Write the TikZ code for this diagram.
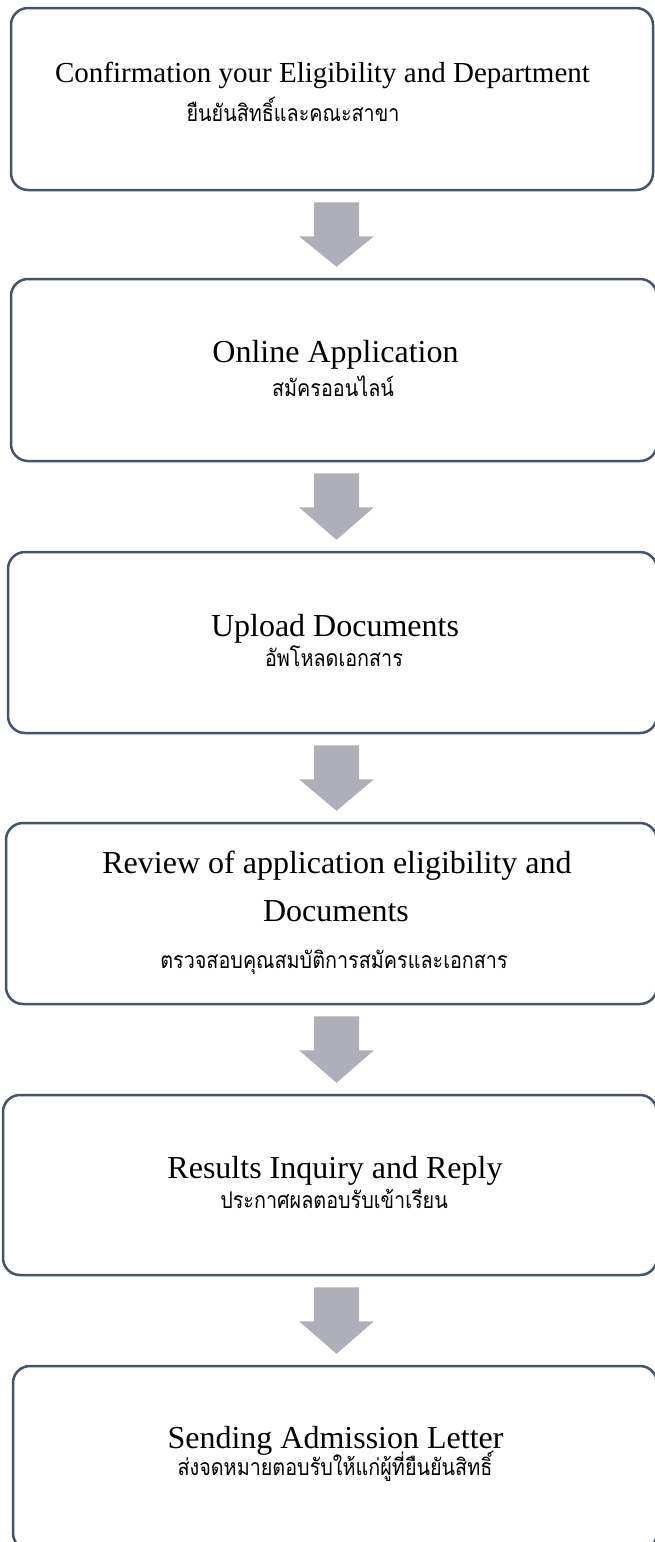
\documentclass[tikz,border=0pt]{standalone}
\usepackage{fontspec}
\setmainfont{Liberation Serif}
\newfontfamily\thai[Script=Thai,FakeStretch=0.86]{Loma}
\usetikzlibrary{calc}
\definecolor{boxline}{HTML}{44546A}
\definecolor{arrowgray}{HTML}{ADB0B8}
\tikzset{
  stepbox/.style={draw=boxline, line width=2.5pt, rounded corners=17pt, fill=white, inner sep=0pt},
  entext/.style={anchor=base, font=\fontsize{32}{36}\selectfont, inner sep=0pt},
  thtext/.style={anchor=base, font=\thai\fontsize{23}{27}\selectfont, inner sep=0pt},
  arrowfill/.style={fill=arrowgray, draw=none}
}
\newcommand{\blockarrow}[2]{%
  \path let \p1=(#1.south), \p2=(#2.north) in
    [arrowfill] (314pt,\y1-11pt) -- (359pt,\y1-11pt) -- (359pt,\y1-45pt) -- (374pt,\y1-45pt)
    -- (336.5pt,\y2+11pt) -- (299pt,\y1-45pt) -- (314pt,\y1-45pt) -- cycle;}
\begin{document}
\begin{tikzpicture}[x=1pt,y=-1pt]
\useasboundingbox (0,0) rectangle (655,1542);
\fill[white] (0,0) rectangle (655,1542);
% boxes
\node[stepbox, minimum width=642pt, minimum height=182pt] (b1) at (332,99) {};
\node[stepbox, minimum width=646pt, minimum height=182pt] (b2) at (334,370) {};
\node[stepbox, minimum width=649pt, minimum height=181pt] (b3) at (332.5,642.5) {};
\node[stepbox, minimum width=651pt, minimum height=181pt] (b4) at (331.5,913.5) {};
\node[stepbox, minimum width=654pt, minimum height=180pt] (b5) at (330,1185) {};
\node[stepbox, minimum width=644pt, minimum height=184pt] (b6) at (335,1458) {};
% arrows
\blockarrow{b1}{b2}
\blockarrow{b2}{b3}
\blockarrow{b3}{b4}
\blockarrow{b4}{b5}
\blockarrow{b5}{b6}
% texts
\node[entext, font=\fontsize{29}{34}\selectfont] (t1) at (322.5,82) {Confirmation your Eligibility and Department};
\node[thtext] (h1) at (293,121) {ยืนยันสิทธิ์และคณะสาขา};
\node[entext] (t2) at (335.5,362) {Online Application};
\node[thtext] (h2) at (333,396) {สมัครออนไลน์};
\node[entext] (t3) at (335,636) {Upload Documents};
\node[thtext] (h3) at (334,666) {อัพโหลดเอกสาร};
\node[entext] (t4a) at (337,873) {Review of application eligibility and};
\node[entext] (t4b) at (336,921) {Documents};
\node[thtext] (h4) at (334,968) {ตรวจสอบคุณสมบัติการสมัครและเอกสาร};
\node[entext] (t5) at (335,1178) {Results Inquiry and Reply};
\node[thtext] (h5) at (334,1208) {ประกาศผลตอบรับเข้าเรียน};
\node[entext] (t6) at (335.5,1448) {Sending Admission Letter};
\node[thtext] (h6) at (335,1475) {ส่งจดหมายตอบรับให้แก่ผู้ที่ยืนยันสิทธิ์};
\end{tikzpicture}
\end{document}
